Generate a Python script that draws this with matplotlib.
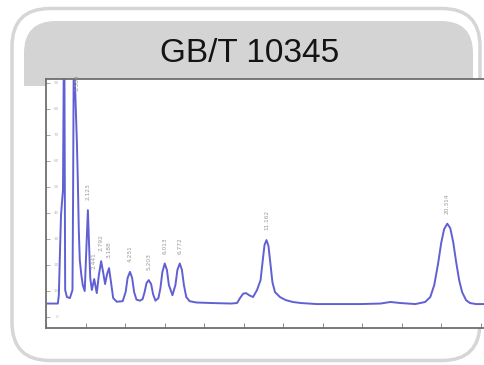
import matplotlib
matplotlib.use("Agg")
import matplotlib.pyplot as plt
from matplotlib.patches import FancyBboxPatch, Rectangle

# ---- data ----
title = "GB/T 10345"
retention_time = [0.10, 0.60, 0.65, 0.71, 0.76, 0.81, 0.86, 0.92, 0.97, 1.06, 1.21, 1.34,
                  1.37, 1.42, 1.46, 1.51, 1.56, 1.61, 1.66, 1.71, 1.79, 1.86, 1.96, 2.04,
                  2.12, 2.18, 2.24, 2.32, 2.44, 2.57, 2.67, 2.79, 2.89, 2.99, 3.09, 3.19,
                  3.29, 3.40, 3.58, 3.88, 4.03, 4.13, 4.25, 4.36, 4.46, 4.58, 4.75, 4.89,
                  4.99, 5.09, 5.20, 5.32, 5.42, 5.54, 5.69, 5.79, 5.89, 6.01, 6.12, 6.22,
                  6.40, 6.55, 6.65, 6.77, 6.88, 6.98, 7.10, 7.27, 7.61, 8.36, 9.37, 9.67,
                  9.82, 9.98, 10.13, 10.28, 10.48, 10.68, 10.86, 10.96, 11.06, 11.16, 11.26,
                  11.36, 11.46, 11.59, 11.84, 12.14, 12.49, 12.90, 13.70, 15.92, 16.93,
                  17.43, 17.93, 18.69, 19.19, 19.45, 19.65, 19.85, 20.00, 20.15, 20.31,
                  20.46, 20.61, 20.76, 20.91, 21.06, 21.26, 21.46, 21.76, 22.27]
signal = [5.1, 5.1, 8.3, 25.7, 39.1, 44.1, 48.7, 121.8, 10.3, 7.6, 7.2, 10.3,
          44.9, 125.0, 91.0, 79.5, 68.0, 52.6, 33.3, 21.8, 16.0, 12.2, 9.9, 25.7,
          41.0, 27.6, 14.9, 10.3, 14.5, 9.1, 15.7, 21.4, 17.2, 12.6, 16.4, 18.7,
          13.3, 7.2, 5.8, 6.0, 9.5, 14.9, 17.3, 14.9, 9.5, 6.6, 6.2, 6.8,
          9.5, 13.0, 14.1, 12.6, 8.7, 6.2, 7.2, 11.0, 17.2, 20.5, 18.0, 12.2,
          8.3, 12.2, 18.0, 20.5, 18.0, 12.2, 7.6, 6.0, 5.5, 5.3, 5.1, 5.3,
          7.2, 8.9, 9.1, 8.3, 7.6, 10.3, 14.1, 21.0, 27.6, 29.5, 27.2,
          20.3, 13.3, 9.5, 7.6, 6.4, 5.7, 5.3, 4.9, 4.9, 5.1,
          5.7, 5.3, 4.9, 5.7, 7.6, 12.2, 20.7, 28.3, 33.7, 35.8,
          34.1, 28.7, 21.0, 14.1, 9.5, 6.4, 5.3, 4.9, 4.9]

peak_times = [1.58, 2.12, 2.44, 2.79, 3.19, 4.25, 5.20, 6.01, 6.77, 11.16, 20.31]
peak_tops = [83.0, 41.0, 14.5, 21.4, 18.7, 17.3, 14.1, 20.5, 20.5, 29.5, 35.8]
peak_labels = ["1.584", "2.123", "2.441", "2.792", "3.188", "4.251", "5.203",
               "6.013", "6.772", "11.162", "20.314"]

x_ticks = [0, 2, 4, 6, 8, 10, 12, 14, 16, 18, 20, 22]
y_ticks = [0, 10, 20, 30, 40, 50, 60, 70, 80, 90]

W, H = 484, 365
fig = plt.figure(figsize=(W / 100, H / 100), dpi=100)
fig.patch.set_facecolor("white")

# background frame
bg = fig.add_axes([0, 0, 1, 1])
bg.set_xlim(0, W)
bg.set_ylim(H, 0)
bg.axis("off")
outer = FancyBboxPatch((12, 8.5), 468, 352, boxstyle="round,pad=0,rounding_size=38",
                       fc="white", ec="#d6d6d6", lw=2.5)
bg.add_patch(outer)
header = FancyBboxPatch((24, 21), 449, 110, boxstyle="round,pad=0,rounding_size=32",
                        fc="#d4d4d4", ec="none")
bg.add_patch(header)
clip = Rectangle((0, 0), W, 86, transform=bg.transData)
header.set_clip_path(clip)
bg.text(250, 54, title, ha="center", va="center", fontsize=24,
        family="Liberation Sans", color="#141414")

# chromatogram axes
x0, x1, y0, y1 = 46, 487, 79, 328
ax = fig.add_axes([x0 / W, 1 - y1 / H, (x1 - x0) / W, (y1 - y0) / H])
ax.set_facecolor("white")
ax.plot(retention_time, signal, color="#6060d4", lw=1.4, solid_joinstyle="round")
ax.set_xlim(0.10, 22.32)
ax.set_ylim(-4.3, 91.4)
ax.set_xticks(x_ticks)
ax.set_yticks(y_ticks)
ax.set_yticklabels([str(v) for v in y_ticks])
ax.tick_params(axis="x", direction="in", length=3.5, width=0.7, color="#8a8a8a",
               labelbottom=False)
ax.tick_params(axis="y", direction="in", length=3, width=0.6, color="#9a9a9a",
               labelsize=3, labelcolor="#b8b8b8", pad=-9)
for side in ["left", "top", "bottom"]:
    ax.spines[side].set_color("#6e6e6e")
    ax.spines[side].set_linewidth(1.3)
ax.spines["right"].set_visible(False)

for t, s, lab in zip(peak_times, peak_tops, peak_labels):
    ax.annotate(lab, (t, s), xytext=(0, 7), textcoords="offset points",
                rotation=90, ha="center", va="bottom", fontsize=4.2,
                color="#9a9a9a")

fig.savefig("out.png", dpi=100)
